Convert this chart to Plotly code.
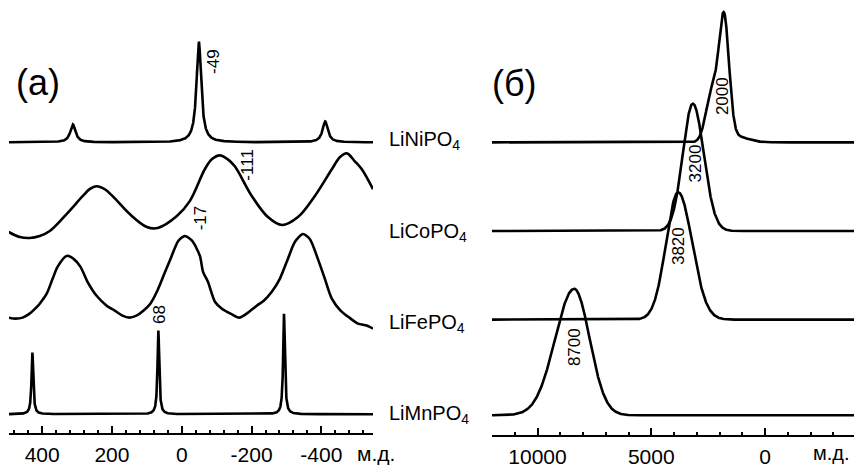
import numpy as np
import plotly.graph_objects as go

# ---------------- Panel (а) ----------------
# Narrow-line spectra as peak lists: position (ppm), height (a.u.), FWHM (ppm)
ni_a_pos = [312, -49, -411]
ni_a_height = [18, 101, 21]
ni_a_fwhm = [18, 16, 18]

mn_a_pos = [428, 67, -293]
mn_a_height = [62, 84, 101]
mn_a_fwhm = [6, 6, 6]

# Broad spectra
co_a_ppm = [496, 464, 436, 407, 378, 330, 284, 264, 244, 221, 198, 149, 100, 69, 14,
            -23, -66, -86, -109, -132, -152, -201, -247, -287, -333, -381, -430,
            -453, -473, -496, -516, -548]
co_a_int = [6, 1, 0, 2, 7, 24, 42, 49, 52, 49, 42, 24, 11, 10, 22,
            37, 69, 79, 83, 79, 72, 42, 21, 13, 21, 42, 69,
            81, 85, 77, 69, 49]

fe_a_ppm = [496, 476, 456, 436, 420, 407, 387, 370, 356, 330, 310, 290, 270, 244, 215,
            192, 170, 150, 130, 110, 90, 70, 50, 30, 10, -9, -30, -52, -61, -75,
            -95, -115, -140, -165, -190, -215, -235, -258, -281, -304, -324,
            -347, -367, -390, -410, -430, -455, -480, -505, -530, -548]
fe_a_int = [1, 0, 1, 5, 10, 15, 25, 40, 52, 63, 60, 52, 37, 23, 13,
            8, 3, 1, 3, 8, 15, 28, 45, 62, 78, 83, 78, 63, 47, 37,
            17, 10, 5, 1, 6, 13, 18, 27, 40, 60, 77,
            85, 80, 60, 40, 20, 8, 1, -5, -7, -10]

offsets_a = [292, 196, 115, 19]          # Ni, Co, Fe, Mn vertical stacking

# ---------------- Panel (б) ----------------
# position (ppm), height, Gaussian sigma toward higher ppm, sigma toward lower ppm
ni_b_pos = [2330, 1800, 1300]
ni_b_height = [50, 120, 6]
ni_b_sig_hi = [264, 220, 527]
ni_b_sig_lo = [264, 220, 527]

co_b_pos = [3175]
co_b_height = [128]
co_b_sig_hi = [440]
co_b_sig_lo = [483]

fe_b_pos = [3821]
fe_b_height = [128]
fe_b_sig_hi = [527]
fe_b_sig_lo = [615]

mn_b_pos = [8389]
mn_b_height = [127]
mn_b_sig_hi = [835]
mn_b_sig_lo = [680]

offsets_b = [294, 205, 116, 20]

sample_names = ["LiNiPO<sub>4</sub>", "LiCoPO<sub>4</sub>",
                "LiFePO<sub>4</sub>", "LiMnPO<sub>4</sub>"]
shift_labels_a = ["-49", "-111", "-17", "68"]
shift_labels_b = ["2000", "3200", "3820", "8700"]


def lorentz_sum(x, pos, h, fwhm):
    y = np.zeros_like(x)
    for c, a, w in zip(pos, h, fwhm):
        y += a / (1.0 + ((x - c) / (w / 2.0)) ** 2)
    return y


def asym_gauss_sum(x, pos, h, s_hi, s_lo):
    y = np.zeros_like(x)
    for c, a, sh, sl in zip(pos, h, s_hi, s_lo):
        s = np.where(x >= c, sh, sl)
        y += a * np.exp(-0.5 * ((x - c) / s) ** 2)
    return y


W, H = 854, 468
LINE = dict(color="black", width=2.6)
FONT = "Liberation Sans, Arial, sans-serif"

xa_range = [495, -548]
xb_range = [12000, -3910]

grid_a = np.linspace(xa_range[0], xa_range[1], 4000)
grid_b = np.linspace(xb_range[0], xb_range[1], 3000)

fig = go.Figure()

fig.add_trace(go.Scatter(x=grid_a, y=offsets_a[0] + lorentz_sum(grid_a, ni_a_pos, ni_a_height, ni_a_fwhm),
                         mode="lines", line=LINE, xaxis="x", yaxis="y"))
fig.add_trace(go.Scatter(x=co_a_ppm, y=[offsets_a[1] + v for v in co_a_int],
                         mode="lines", line=dict(LINE, shape="spline", smoothing=1.0), xaxis="x", yaxis="y"))
fig.add_trace(go.Scatter(x=fe_a_ppm, y=[offsets_a[2] + v for v in fe_a_int],
                         mode="lines", line=dict(LINE, shape="spline", smoothing=0.7), xaxis="x", yaxis="y"))
fig.add_trace(go.Scatter(x=grid_a, y=offsets_a[3] + lorentz_sum(grid_a, mn_a_pos, mn_a_height, mn_a_fwhm),
                         mode="lines", line=LINE, xaxis="x", yaxis="y"))

for pos, h, sh, sl, off in [(ni_b_pos, ni_b_height, ni_b_sig_hi, ni_b_sig_lo, offsets_b[0]),
                            (co_b_pos, co_b_height, co_b_sig_hi, co_b_sig_lo, offsets_b[1]),
                            (fe_b_pos, fe_b_height, fe_b_sig_hi, fe_b_sig_lo, offsets_b[2]),
                            (mn_b_pos, mn_b_height, mn_b_sig_hi, mn_b_sig_lo, offsets_b[3])]:
    fig.add_trace(go.Scatter(x=grid_b, y=off + asym_gauss_sum(grid_b, pos, h, sh, sl),
                             mode="lines", line=LINE, xaxis="x2", yaxis="y2"))

axis_common = dict(
    showline=True, linecolor="black", linewidth=2,
    ticks="inside", ticklen=7, tickwidth=2, tickcolor="black",
    showgrid=False, zeroline=False,
    tickfont=dict(family=FONT, size=21, color="black"),
    ticklabelstandoff=2,
)

fig.update_layout(
    width=W, height=H,
    margin=dict(l=0, r=0, t=0, b=0),
    paper_bgcolor="white", plot_bgcolor="white",
    showlegend=False,
    xaxis=dict(axis_common, domain=[9 / W, 373 / W], range=xa_range,
               tickvals=[400, 200, 0, -200, -400], ticktext=["400", "200", "0", "-200", "-400"],
               minor=dict(dtick=40, tick0=0, ticks="inside", ticklen=3, tickwidth=2, tickcolor="black"),
               anchor="y"),
    yaxis=dict(domain=[1 - 435 / H, 1], range=[0, 435], visible=False, anchor="x"),
    xaxis2=dict(axis_common, domain=[492 / W, 1], range=xb_range,
                tickvals=[10000, 5000, 0], ticktext=["10000", "5000", "0"],
                minor=dict(dtick=1000, tick0=0, ticks="inside", ticklen=3, tickwidth=2, tickcolor="black"),
                anchor="y2"),
    yaxis2=dict(domain=[1 - 437 / H, 1], range=[0, 437], visible=False, anchor="x2"),
)

ann = []
for name, yc in zip(sample_names, [141, 233, 325, 416]):
    ann.append(dict(text=name, xref="paper", yref="paper", x=387 / W, y=1 - yc / H,
                    xanchor="left", yanchor="middle", showarrow=False,
                    font=dict(family=FONT, size=20, color="black")))
ann.append(dict(text="(а)", xref="paper", yref="paper", x=38 / W, y=1 - 83 / H,
                xanchor="center", yanchor="middle", showarrow=False,
                font=dict(family=FONT, size=36, color="black")))
ann.append(dict(text="(б)", xref="paper", yref="paper", x=514 / W, y=1 - 84 / H,
                xanchor="center", yanchor="middle", showarrow=False,
                font=dict(family=FONT, size=36, color="black")))
ann.append(dict(text="м.д.", xref="paper", yref="paper", x=376 / W, y=1 - 455 / H,
                xanchor="center", yanchor="middle", showarrow=False,
                font=dict(family=FONT, size=21, color="black")))
ann.append(dict(text="м.д.", xref="paper", yref="paper", x=852 / W, y=1 - 455 / H,
                xanchor="right", yanchor="middle", showarrow=False,
                font=dict(family=FONT, size=20, color="black")))
for txt, (xx, yy) in zip(shift_labels_a, [(-93, 373), (-188, 270), (-53, 216), (64, 119)]):
    ann.append(dict(text=txt, xref="x", yref="y", x=xx, y=yy, textangle=-90,
                    xanchor="center", yanchor="middle", showarrow=False,
                    font=dict(family=FONT, size=17, color="black")))
for txt, (xx, yy) in zip(shift_labels_b, [(1870, 341), (3074, 273), (3777, 190), (8370, 88)]):
    ann.append(dict(text=txt, xref="x2", yref="y2", x=xx, y=yy, textangle=-90,
                    xanchor="center", yanchor="middle", showarrow=False,
                    font=dict(family=FONT, size=17, color="black")))

fig.update_layout(annotations=ann)
fig.write_html("out.html")
